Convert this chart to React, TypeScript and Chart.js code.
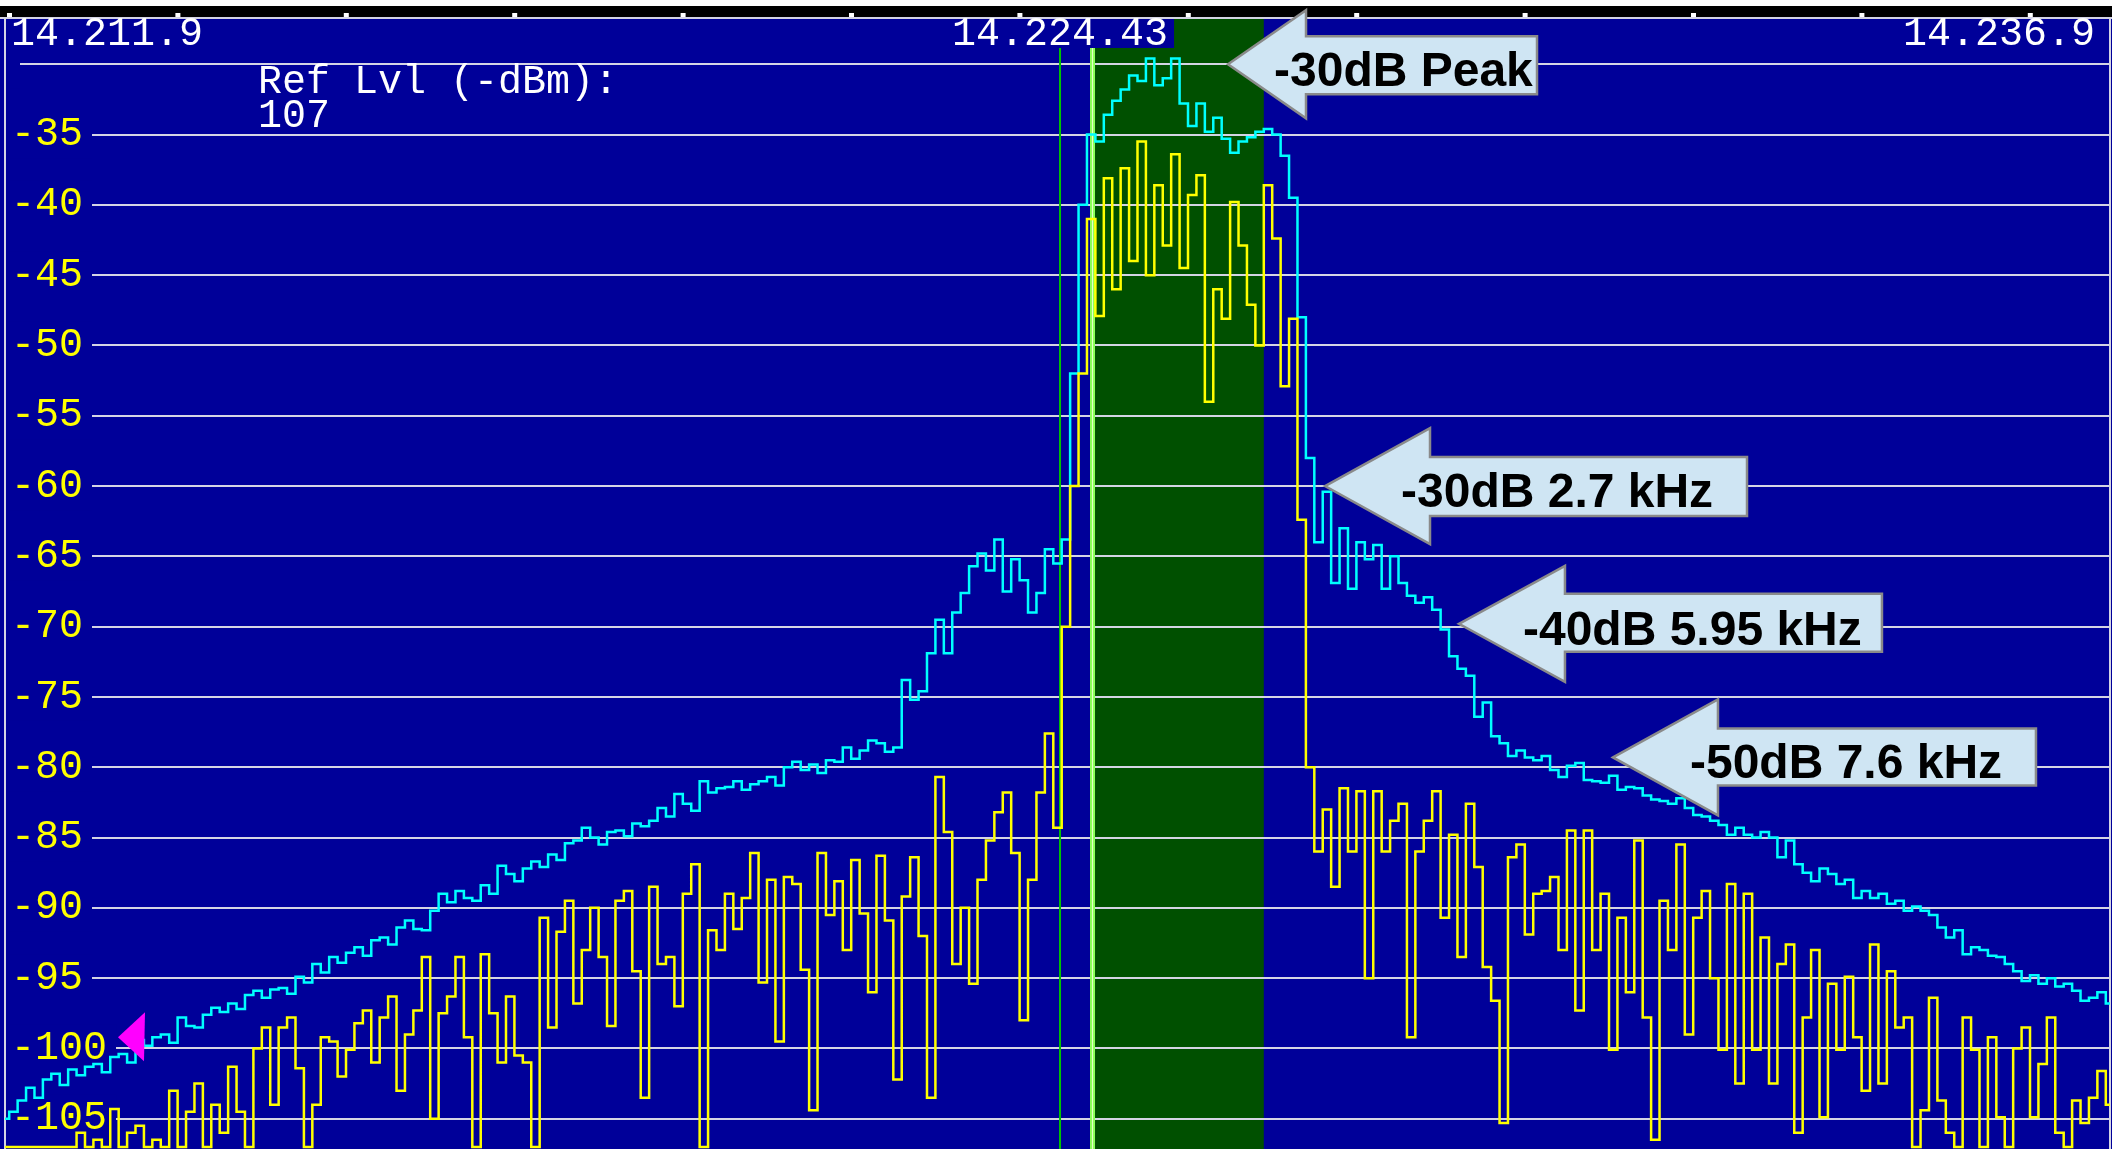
import React, { useEffect, useRef } from 'react';
import { Chart, registerables } from 'chart.js';

Chart.register(...registerables);

// ---- axis / frequency data ----
const FREQ_MIN = 14.2119;
const FREQ_MAX = 14.2369;
const FREQ_CENTER = 14.22443;
const BIN_MHZ = 0.0001;
const DB_MIN = -107.15;
const DB_MAX = -26.64;
const yTickValues = [-105, -100, -95, -90, -85, -80, -75, -70, -65, -60, -55, -50, -45, -40, -35, -30];
const topFreqLabels = ['14.211.9', '14.224.43', '14.236.9'];
const refLevelLabel = 'Ref Lvl (-dBm):';
const refLevelValue = '107';
const passbandLow = 14.22481;
const passbandHigh = 14.22685;
const markerFreq = 14.213242;
const markerDb = -99.2;
const calloutText = ['-30dB Peak', '-30dB 2.7 kHz', '-40dB 5.95 kHz', '-50dB 7.6 kHz'];
const calloutFreq = [14.226425, 14.227577, 14.229168, 14.230997];
const calloutDb = [-30, -60, -69.8, -79.3];

// ---- traces (dBm per 0.1 kHz bin) ----
const maxHoldDb = [
  -105, -104.5, -103.7, -102.8, -103.5, -102.2, -101.8, -102.6, -101.5, -101.9,
  -101.3, -101.1, -101.7, -100.6, -100.4, -101, -99.4, -99.8, -99.2, -99,
  -99.6, -97.8, -98.4, -98.5, -97.6, -97.1, -97.4, -96.8, -97.2, -96.2,
  -95.9, -96.4, -95.8, -95.7, -96.1, -94.9, -95.3, -94, -94.6, -93.5,
  -93.9, -93.2, -92.8, -93.4, -92.3, -92.1, -92.6, -91.4, -90.9, -91.5,
  -91.6, -90.2, -89, -89.6, -88.8, -89.3, -89.5, -88.4, -89, -87,
  -87.6, -88.1, -87.2, -86.7, -87.1, -86.2, -86.6, -85.4, -85.2, -84.3,
  -85, -85.5, -84.6, -84.5, -84.9, -84, -84.2, -83.8, -82.9, -83.5,
  -81.9, -82.6, -83.1, -81, -81.8, -81.5, -81.4, -81, -81.6, -81.2,
  -81, -80.7, -81.3, -80, -79.6, -80.2, -79.8, -80.4, -79.5, -79.6,
  -78.6, -79.4, -78.8, -78.1, -78.3, -78.9, -78.6, -73.8, -75.2, -74.6,
  -71.9, -69.5, -71.9, -69, -67.6, -65.7, -64.8, -66, -63.8, -67.5,
  -65.2, -66.7, -69, -67.6, -64.5, -65.5, -63.8, -52, -40, -35,
  -35.5, -33.6, -32.6, -31.8, -30.8, -31.2, -29.6, -31.5, -31, -29.6,
  -32.8, -34.4, -32.8, -34.8, -33.8, -35.3, -36.3, -35.5, -35.2, -34.8,
  -34.6, -35, -36.5, -39.5, -48, -58, -64, -60.4, -66.9, -63,
  -67.3, -64, -65.2, -64.2, -67.3, -65, -66.9, -67.8, -68.3, -67.9,
  -68.8, -70.2, -72.1, -73, -73.5, -76.4, -75.4, -77.8, -78.3, -79.2,
  -78.8, -79.3, -79.5, -79.2, -80.2, -80.7, -79.9, -79.7, -80.9, -81,
  -81.1, -80.6, -81.6, -81.4, -81.5, -82, -82.3, -82.4, -82.6, -82.2,
  -82.9, -83.4, -83.5, -83.8, -84.1, -84.8, -84.3, -84.8, -85, -84.6,
  -85, -86.4, -85.2, -86.9, -87.5, -88.1, -87.2, -87.6, -88.3, -88,
  -89.3, -88.8, -89.3, -89, -89.7, -89.5, -90.2, -89.9, -90.2, -90.5,
  -91.4, -92.1, -91.6, -93.3, -92.8, -93, -93.4, -93.5, -94, -94.5,
  -95.2, -94.8, -95.4, -95, -95.6, -95.4, -95.9, -96.6, -96.4, -96,
  -96.8,
];

const liveDb = [
  -107, -107, -107, -107, -107, -107, -107, -107, -107, -106,
  -107, -106.5, -107, -104.3, -107, -106, -105.5, -107, -106.5, -107,
  -103, -107, -104.5, -102.5, -107, -104, -106, -101.3, -104.5, -107,
  -100, -98.5, -104, -98.5, -97.8, -101.4, -107, -104, -99.2, -99.5,
  -102, -100.1, -98.2, -97.3, -101, -97.8, -96.3, -103, -99, -97.3,
  -93.5, -105, -97.5, -96.3, -93.5, -99.2, -107, -93.3, -97.5, -101,
  -96.3, -100.5, -101, -107, -90.7, -98.5, -91.7, -89.5, -96.8, -93,
  -90, -93.5, -98.4, -89.5, -88.8, -94.5, -103.5, -88.5, -94, -93.5,
  -97, -89, -86.9, -107, -91.6, -93, -89, -91.5, -89.3, -86.1,
  -95.3, -88, -99.5, -87.8, -88.3, -94.4, -104.4, -86.1, -90.5, -88.1,
  -93, -86.6, -90.4, -96, -86.3, -90.9, -102.2, -89.2, -86.4, -92,
  -103.5, -80.7, -84.6, -94, -90, -95.4, -88, -85.2, -83.2, -81.8,
  -86.1, -98, -88, -81.8, -77.6, -84.3, -70, -60, -52, -41,
  -47.9, -38.1, -46, -37.4, -44, -35.5, -45, -38.6, -42.9, -36.4,
  -44.5, -39.3, -37.9, -54, -46, -48.1, -39.8, -42.9, -47.1, -50,
  -38.6, -42.4, -52.9, -48.1, -62.4, -80, -86, -83, -88.5, -81.5,
  -86, -81.7, -95, -81.7, -86, -83.8, -82.6, -99.2, -86, -83.8,
  -81.7, -90.7, -84.8, -93.5, -82.6, -87.1, -94.2, -96.6, -105.3, -86.4,
  -85.5, -91.9, -89, -88.8, -87.8, -93, -84.5, -97.3, -84.5, -93,
  -89, -100.1, -90.7, -96, -85.2, -97.8, -106.5, -89.5, -93, -85.5,
  -99, -90.7, -88.8, -95, -100.1, -88.3, -102.5, -89, -100.1, -92.1,
  -102.5, -94, -92.6, -106, -97.8, -93, -104.9, -95.4, -100.1, -94.9,
  -99.2, -103, -92.6, -102.5, -94.5, -98.5, -97.8, -107, -104.4, -96.4,
  -103.7, -106, -107, -97.8, -100.1, -107, -99.2, -104.9, -107, -100,
  -98.5, -104.9, -101.1, -97.8, -106, -107, -103.7, -105.3, -103.5, -101.6,
  -104,
];

// ---- styles ----
const BG = '#000099';
const GRID = '#d4d4e4';
const MONO = '"Liberation Mono", "DejaVu Sans Mono", monospace';
const calloutGeom = [
  { base: 78, head: 54, bodyTop: 28, bodyBottom: 30, right: 309, textX: 46, textY: 22 },
  { base: 105, head: 58, bodyTop: 29, bodyBottom: 30, right: 422, textX: 76, textY: 21 },
  { base: 106, head: 58, bodyTop: 30, bodyBottom: 28, right: 423, textX: 64, textY: 21 },
  { base: 105, head: 58, bodyTop: 29, bodyBottom: 28, right: 423, textX: 77, textY: 21 },
];

const toPoints = (arr: number[]) => arr.map((v, i) => ({ x: FREQ_MIN + i * BIN_MHZ, y: v }));

const decorPlugin = {
  id: 'spectrumDecor',
  beforeDraw(chart: any) {
    const { ctx, width, height, chartArea: ca } = chart;
    const x = chart.scales.x;
    ctx.save();
    ctx.fillStyle = BG;
    ctx.fillRect(0, 0, width, height);
    ctx.fillStyle = '#ffffff';
    ctx.fillRect(0, 0, width, 6);
    ctx.fillStyle = '#000000';
    ctx.fillRect(0, 6, width, 11);
    const x0 = x.getPixelForValue(passbandLow);
    const x1 = x.getPixelForValue(passbandHigh);
    ctx.fillStyle = '#005000';
    ctx.fillRect(x0, ca.top, x1 - x0, ca.bottom - ca.top);
    ctx.fillStyle = '#ffffff';
    for (let k = 0; k <= 12; k++) {
      const px = x.getPixelForValue(FREQ_MIN + k * 0.002);
      ctx.fillRect(px + 2, 13, 5, 4);
    }
    ctx.fillStyle = GRID;
    ctx.fillRect(0, 17, width, 2);
    ctx.restore();
  },
  beforeDatasetsDraw(chart: any) {
    const { ctx, chartArea: ca } = chart;
    const x = chart.scales.x;
    ctx.save();
    ctx.fillStyle = GRID;
    ctx.fillRect(ca.left - 1, ca.top, 2, ca.bottom - ca.top);
    ctx.fillRect(ca.right - 1, ca.top, 2, ca.bottom - ca.top);
    const cx = x.getPixelForValue(FREQ_CENTER);
    ctx.fillStyle = '#00c400';
    ctx.fillRect(cx - 1, 48, 2, ca.bottom - 48);
    const bx = x.getPixelForValue(passbandLow);
    ctx.fillStyle = '#8cff5a';
    ctx.fillRect(bx - 2, 48, 5, ca.bottom - 48);
    ctx.fillStyle = '#e4ffc8';
    ctx.fillRect(bx, 48, 1, ca.bottom - 48);
    ctx.restore();
  },
  afterDatasetsDraw(chart: any) {
    const { ctx, chartArea: ca } = chart;
    const x = chart.scales.x;
    const y = chart.scales.y;
    ctx.save();
    // frequency labels
    ctx.font = `40px ${MONO}`;
    ctx.textBaseline = 'alphabetic';
    ctx.fillStyle = '#ffffff';
    ctx.textAlign = 'left';
    ctx.fillText(topFreqLabels[0], ca.left + 6, 45);
    const cx = x.getPixelForValue(FREQ_CENTER);
    const w = ctx.measureText(topFreqLabels[1]).width;
    ctx.fillStyle = BG;
    ctx.fillRect(cx - w / 2 - 6, 19, w + 12, 29);
    ctx.fillStyle = '#ffffff';
    ctx.textAlign = 'center';
    ctx.fillText(topFreqLabels[1], cx, 45);
    ctx.textAlign = 'right';
    ctx.fillText(topFreqLabels[2], ca.right - 15, 45);
    // reference level
    ctx.textAlign = 'left';
    ctx.fillText(refLevelLabel, 258, 93);
    ctx.fillText(refLevelValue, 258, 127);
    // marker
    const mx = x.getPixelForValue(markerFreq);
    const my = y.getPixelForValue(markerDb);
    ctx.fillStyle = '#ff00ff';
    ctx.beginPath();
    ctx.moveTo(mx, my);
    ctx.lineTo(mx + 27, my - 25);
    ctx.lineTo(mx + 26, my + 24);
    ctx.closePath();
    ctx.fill();
    // callouts
    ctx.font = 'bold 48px "Liberation Sans", Arial, sans-serif';
    ctx.textAlign = 'left';
    for (let i = 0; i < calloutText.length; i++) {
      const g = calloutGeom[i];
      const tx = x.getPixelForValue(calloutFreq[i]);
      const ty = y.getPixelForValue(calloutDb[i]);
      ctx.beginPath();
      ctx.moveTo(tx, ty);
      ctx.lineTo(tx + g.base, ty - g.head);
      ctx.lineTo(tx + g.base, ty - g.bodyTop);
      ctx.lineTo(tx + g.right, ty - g.bodyTop);
      ctx.lineTo(tx + g.right, ty + g.bodyBottom);
      ctx.lineTo(tx + g.base, ty + g.bodyBottom);
      ctx.lineTo(tx + g.base, ty + g.head);
      ctx.closePath();
      ctx.fillStyle = '#cfe5f3';
      ctx.fill();
      ctx.lineWidth = 2.5;
      ctx.strokeStyle = '#8a8a8a';
      ctx.stroke();
      ctx.fillStyle = '#000000';
      ctx.fillText(calloutText[i], tx + g.textX, ty + g.textY);
    }
    ctx.restore();
  },
};

export default function App() {
  const ref = useRef<HTMLCanvasElement>(null);
  useEffect(() => {
    const canvas = ref.current;
    if (!canvas) return;
    const chart = new Chart(canvas, {
      type: 'line',
      data: {
        datasets: [
          {
            label: 'Live',
            data: toPoints(liveDb),
            borderColor: '#ffff00',
            borderWidth: 2.5,
            pointRadius: 0,
            stepped: 'middle',
            fill: false,
            order: 0,
          },
          {
            label: 'Max hold',
            data: toPoints(maxHoldDb),
            borderColor: '#00ffff',
            borderWidth: 2.5,
            pointRadius: 0,
            stepped: 'middle',
            fill: false,
            order: 1,
          },
        ],
      },
      options: {
        animation: false,
        responsive: false,
        maintainAspectRatio: false,
        devicePixelRatio: 1,
        layout: { padding: { left: 5, right: 2, top: 17, bottom: 0 } },
        plugins: { legend: { display: false }, tooltip: { enabled: false } },
        scales: {
          x: { type: 'linear', min: FREQ_MIN, max: FREQ_MAX, display: false },
          y: {
            type: 'linear',
            position: 'left',
            min: DB_MIN,
            max: DB_MAX,
            afterFit: (s: any) => {
              s.width = 0;
              s.paddingTop = 0;
              s.paddingBottom = 0;
              s.paddingLeft = 0;
              s.paddingRight = 0;
            },
            afterBuildTicks: (s: any) => { s.ticks = yTickValues.map((v) => ({ value: v })); },
            grid: { color: GRID, lineWidth: 2, drawTicks: false },
            border: { display: false },
            ticks: {
              mirror: true,
              padding: 6,
              color: '#ffff00',
              font: { family: 'Liberation Mono', size: 40 },
              showLabelBackdrop: true,
              backdropColor: BG,
              backdropPadding: { left: 6, right: 9, top: 0, bottom: 0 },
              callback: (v: any) => (v === -30 ? '' : String(v)),
            },
          },
        },
      },
      plugins: [decorPlugin],
    } as any);
    return () => chart.destroy();
  }, []);
  return (
    <canvas
      ref={ref}
      width={2112}
      height={1149}
      style={{ position: 'fixed', left: 0, top: 0, width: 2112, height: 1149, display: 'block' }}
    />
  );
}
